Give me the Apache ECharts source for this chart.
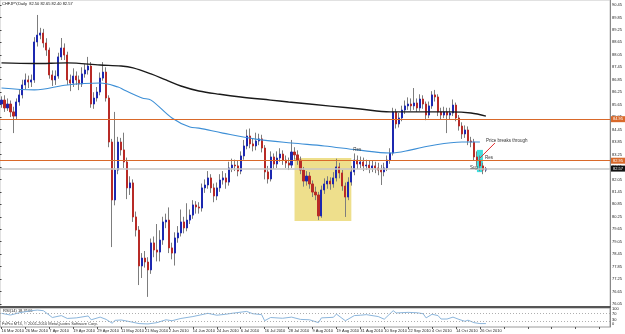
<!DOCTYPE html>
<html><head><meta charset="utf-8">
<script src="https://cdn.jsdelivr.net/npm/echarts@6/dist/echarts.min.js"></script>
<style>html,body{margin:0;padding:0;background:#fff}#c{width:625px;height:334px}</style>
</head><body><div id="c"></div>
<script>
const tickLabels = ['16 Mar 2010','26 Mar 2010','7 Apr 2010','19 Apr 2010','29 Apr 2010','11 May 2010','21 May 2010','2 Jun 2010','14 Jun 2010','24 Jun 2010','6 Jul 2010','16 Jul 2010','28 Jul 2010','9 Aug 2010','19 Aug 2010','31 Aug 2010','10 Sep 2010','22 Sep 2010','4 Oct 2010','14 Oct 2010','26 Oct 2010'];

const opens = [85.68,85.87,85.49,85.68,85.30,85.10,85.78,86.12,86.60,86.84,
 86.74,86.84,88.67,89.00,89.10,88.62,88.28,87.08,86.84,87.03,
 87.95,88.38,88.04,86.84,86.69,87.03,86.84,86.65,87.13,87.32,
 87.51,85.68,85.97,86.26,86.93,87.22,85.97,83.85,81.06,82.50,
 83.85,83.47,82.89,81.64,81.88,80.24,79.61,77.88,78.26,78.07,
 77.69,78.99,78.65,78.55,79.13,80.00,80.09,78.75,78.50,79.23,
 79.47,80.00,79.71,80.09,80.33,80.82,80.72,80.67,81.64,81.78,
 82.12,81.64,81.25,81.64,82.02,82.12,81.92,82.60,82.74,82.70,
 82.45,83.18,83.66,84.14,83.76,83.66,83.90,84.00,83.56,82.41,
 82.07,83.13,82.79,83.08,83.27,82.98,82.84,82.74,83.37,83.23,
 82.98,82.50,81.97,82.21,81.83,81.44,81.30,80.29,81.54,81.83,
 81.97,81.83,82.12,82.65,82.36,81.73,81.20,81.92,82.41,82.98,
 82.79,82.89,82.70,82.74,82.60,82.70,82.60,82.50,82.41,82.60,
 82.98,83.32,85.30,84.72,85.01,85.39,85.59,85.68,85.59,85.73,
 85.49,85.92,85.68,85.15,85.59,86.12,86.02,85.30,85.15,85.30,
 85.15,85.25,85.63,85.01,84.62,84.24,84.43,83.90,83.85,83.13,
 82.98,82.70,82.50];

const closes = [85.87,85.49,85.68,85.30,85.10,85.78,86.12,86.60,86.84,86.74,
 86.84,88.67,89.00,89.10,88.62,88.28,87.08,86.84,87.03,87.95,
 88.38,88.04,86.84,86.69,87.03,86.84,86.65,87.13,87.32,87.51,
 85.68,85.97,86.26,86.93,87.22,85.97,83.85,81.06,82.50,83.85,
 83.47,82.89,81.64,81.88,80.24,79.61,77.88,78.26,78.07,77.69,
 78.99,78.65,78.55,79.13,80.00,80.09,78.75,78.50,79.23,79.47,
 80.00,79.71,80.09,80.33,80.82,80.72,80.67,81.64,81.78,82.12,
 81.64,81.25,81.64,82.02,82.12,81.92,82.60,82.74,82.70,82.45,
 83.18,83.66,84.14,83.76,83.66,83.90,84.00,83.56,82.41,82.07,
 83.13,82.79,83.08,83.27,82.98,82.84,82.74,83.37,83.23,82.98,
 82.50,81.97,82.21,81.83,81.44,81.30,80.29,81.54,81.83,81.97,
 81.83,82.12,82.65,82.36,81.73,81.20,81.92,82.41,82.98,82.79,
 82.89,82.70,82.74,82.60,82.70,82.60,82.50,82.41,82.60,82.98,
 83.32,85.30,84.72,85.01,85.39,85.59,85.68,85.59,85.73,85.49,
 85.92,85.68,85.15,85.59,86.12,86.02,85.30,85.15,85.30,85.15,
 85.25,85.63,85.01,84.62,84.24,84.43,83.90,83.85,83.13,82.98,
 82.70,82.50,82.57];

const highs = [86.05,86.10,85.95,85.85,85.55,85.95,86.40,86.85,87.15,87.05,
 87.10,88.90,89.97,89.35,89.30,88.85,88.40,87.30,87.30,88.15,
 88.86,88.60,88.20,87.10,87.40,87.25,87.05,87.45,87.60,87.95,
 87.70,86.25,86.50,87.20,87.70,87.45,86.10,84.00,85.30,84.10,
 84.05,84.30,83.10,82.20,82.05,80.50,79.80,78.50,78.60,78.30,
 79.20,79.30,79.90,79.60,80.25,80.40,80.70,79.00,79.50,79.80,
 80.60,80.25,80.90,80.60,81.05,81.00,80.95,81.85,82.05,82.45,
 82.30,81.85,81.90,82.30,82.45,82.35,82.90,83.05,83.00,82.95,
 83.40,83.95,84.45,84.50,84.00,84.30,84.25,84.20,83.70,82.70,
 83.40,83.30,83.40,83.55,83.45,83.20,83.10,83.95,83.60,83.45,
 83.15,82.65,82.45,82.40,82.00,81.70,81.45,81.75,82.10,82.20,
 82.15,82.40,83.05,82.85,82.50,81.90,82.15,82.70,83.30,83.20,
 83.15,83.10,83.00,82.95,82.95,82.90,82.85,82.75,82.85,83.20,
 83.55,85.50,85.45,85.25,85.60,85.85,86.00,85.95,86.45,85.95,
 86.15,86.10,85.80,85.80,86.30,86.36,86.15,85.50,85.55,85.50,
 85.50,85.90,85.75,85.15,84.80,84.65,84.60,84.10,84.00,83.40,
 83.20,82.85,82.65];

const lows = [85.50,85.30,85.35,85.05,84.28,84.95,85.60,85.95,86.40,86.45,
 86.50,86.70,88.45,88.80,88.40,88.00,86.90,86.55,86.60,86.90,
 87.80,87.80,86.60,86.30,86.50,86.60,86.35,86.50,86.95,87.10,
 85.50,85.45,85.80,86.10,86.80,85.80,83.60,78.79,80.80,82.30,
 83.20,82.60,81.10,81.30,80.00,79.30,76.96,77.30,77.80,76.39,
 77.50,78.30,78.10,78.10,78.90,79.70,78.50,78.20,77.90,79.00,
 79.30,79.45,79.55,79.90,80.15,80.40,80.40,80.50,81.40,81.60,
 81.40,80.95,81.05,81.45,81.80,81.60,81.75,82.40,82.45,82.20,
 82.30,83.00,83.50,83.55,83.40,83.45,83.70,83.35,82.05,81.85,
 81.95,82.55,82.60,82.90,82.75,82.60,82.50,82.60,83.00,82.75,
 82.30,81.70,81.75,81.60,81.20,81.05,80.09,80.20,81.35,81.60,
 81.55,81.65,81.95,82.10,81.50,80.24,81.05,81.75,82.25,82.55,
 82.60,82.45,82.50,82.35,82.40,82.35,82.25,81.78,82.20,82.45,
 82.80,83.20,84.50,84.55,84.85,85.20,85.40,85.35,85.40,85.30,
 85.35,85.45,84.90,85.00,85.45,85.80,85.10,84.95,85.00,84.28,
 84.95,85.10,84.85,84.40,84.00,84.05,83.70,83.60,82.95,82.70,
 82.45,82.30,82.40];

// moving averages read at [bar index, price]
const maSlow = [[0,87.66],[11,87.63],[22,87.66],[33,87.56],[40,87.51],[44,87.42],[50,87.13],[55,86.84],[60,86.55],[66,86.31],[73,86.15],[80,86.02],[90,85.87],[96,85.78],[110,85.58],[120,85.44],[130,85.30],[140,85.30],[150,85.30],[157,85.25],[162,85.10]];
const maFast = [[0,86.45],[11,86.36],[22,86.60],[33,86.69],[39,86.50],[41,86.36],[47,85.97],[50,85.87],[57,85.01],[63,84.57],[66,84.52],[74,84.28],[85,83.99],[97,83.80],[108,83.66],[119,83.47],[130,83.32],[137,83.47],[143,83.66],[154,83.85],[160,83.85]];
const rsiValues = [[0,72],[3,63],[6,75],[10,86],[12,89],[14,86],[17,50],[20,60],[22,45],[25,48],[29,58],[30,38],[33,52],[35,40],[36,30],[37,20],[38,35],[40,37],[43,28],[46,18],[49,16],[52,23],[55,38],[57,33],[60,45],[64,55],[67,65],[69,72],[72,62],[75,67],[77,72],[82,82],[84,70],[87,65],[88,33],[90,50],[94,46],[97,52],[100,40],[103,38],[106,23],[107,48],[111,51],[112,68],[115,33],[118,60],[120,62],[122,65],[126,55],[128,41],[131,86],[132,74],[136,77],[139,75],[141,70],[142,48],[144,67],[146,60],[147,42],[149,42],[151,52],[153,40],[155,30],[156,36],[158,23],[160,18],[162,18]];

const resLine = 84.95;
const supLine = 82.95;
const bidPrice = 82.57;
const rsiLevels = [70, 30];
const yellowBox = [[98, 83.08], [117, 80.05]];
const cyanBox = [[159, 83.47], [161, 82.40]];
const notes = [
  {text: 'Res', at: [119, 83.47], pos: 'inside'},
  {text: 'Res', at: [163, 83.08], pos: 'inside'},
  {text: 'Sup', at: [158, 82.60], pos: 'inside'},
  {text: 'Price breaks through', at: [162, 83.90], pos: 'right'}
];
const arrowLine = [[160, 83.08], [165, 83.80]];

const SLOTS = 204;
const cats = Array.from({length: SLOTS}, (_, i) => String(i));
const ohlc = opens.map((o, i) => [o, closes[i], lows[i], highs[i]]);
const bodies = opens.map((o, i) => [o, closes[i], Math.min(o, closes[i]), Math.max(o, closes[i])]);

const FONT = '"Liberation Sans", Arial, sans-serif';
const BULL = '#1c28b0', BEAR = '#b82a26', WICK = '#7d7d7d', ORANGE = '#d9692a';

const chart = echarts.init(document.getElementById('c'), null, {renderer: 'canvas'});
chart.setOption({
  animation: false,
  backgroundColor: '#ffffff',
  textStyle: {fontFamily: FONT},
  title: {text: 'CHFJPY,Daily  82.50 82.65 82.40 82.57', left: 2, top: 2, padding: 0,
    textStyle: {fontSize: 4, fontWeight: 'normal', color: '#111', fontFamily: FONT}},
  grid: [
    {left: 0, right: 15, top: 0, height: 307, show: true, borderColor: '#c4c4c4', borderWidth: 1, outerBoundsMode: 'none'},
    {left: 0, right: 15, top: 308, height: 19, show: true, borderColor: '#9a9a9a', borderWidth: 1, outerBoundsMode: 'none'},
    {left: 0, right: 15, top: 5, height: 299, outerBoundsMode: 'none'},
    {left: 0, right: 15, top: 309.3, height: 15, outerBoundsMode: 'none'}
  ],
  xAxis: [
    {type: 'category', gridIndex: 0, data: cats, boundaryGap: true,
      axisLine: {show: true, lineStyle: {color: '#555', width: 2}}, axisTick: {show: false}, axisLabel: {show: false}, splitLine: {show: false}},
    {type: 'category', gridIndex: 1, data: cats, boundaryGap: true,
      axisLine: {show: false},
      axisTick: {show: true, interval: 7, length: 2, alignWithLabel: true, lineStyle: {color: '#555'}},
      axisLabel: {interval: 7, fontSize: 4, color: '#222', align: 'left', margin: 2, fontFamily: FONT,
        formatter: (v, i) => tickLabels[i / 8] || ''},
      splitLine: {show: false}},
    {type: 'value', gridIndex: 2, show: false, min: 0, max: 1},
    {type: 'value', gridIndex: 3, show: false, min: 0, max: 1}
  ],
  yAxis: [
    {type: 'value', gridIndex: 0, min: 75.903, max: 90.691, position: 'right',
      axisLine: {show: true, lineStyle: {color: '#888', width: 1}}, axisTick: {show: false}, axisLabel: {show: false}, splitLine: {show: false}},
    {type: 'value', gridIndex: 1, min: 0, max: 100, position: 'right',
      axisLine: {show: true, lineStyle: {color: '#888', width: 1}}, axisTick: {show: false}, axisLabel: {show: false}, splitLine: {show: false}},
    {type: 'value', gridIndex: 2, min: 76.2, max: 90.6, interval: 0.6, position: 'right',
      axisLine: {show: false}, axisTick: {show: true, length: 1.5, lineStyle: {color: '#444'}},
      axisLabel: {fontSize: 4, margin: 2, color: '#222', fontFamily: FONT, formatter: v => (v - 0.15).toFixed(2)},
      splitLine: {show: false}},
    {type: 'value', gridIndex: 3, min: 0, max: 100, interval: 10, position: 'right',
      axisLine: {show: false}, axisTick: {show: false},
      axisLabel: {fontSize: 4, margin: 2, color: '#222', fontFamily: FONT,
        formatter: v => ([0, 30, 70, 100].indexOf(Math.round(v)) >= 0 ? String(Math.round(v)) : '')},
      splitLine: {show: false}}
  ],
  series: [
    {type: 'candlestick', name: 'wicks', xAxisIndex: 0, yAxisIndex: 0, data: ohlc, barWidth: 1, z: 2,
      itemStyle: {color: WICK, color0: WICK, borderColor: WICK, borderColor0: WICK, borderWidth: 1},
      markArea: {silent: true, z: 1, data: [
        [{coord: yellowBox[0], itemStyle: {color: '#eedf8c'}}, {coord: yellowBox[1]}],
        [{coord: cyanBox[0], itemStyle: {color: '#3fdede'}}, {coord: cyanBox[1]}]
      ]},
      markLine: {silent: true, symbol: ['none', 'none'], animation: false, data: [
        {yAxis: resLine, lineStyle: {color: ORANGE, width: 1, type: 'solid'},
          label: {show: true, position: 'end', distance: 1, formatter: resLine.toFixed(2), fontSize: 4, color: '#fff', backgroundColor: ORANGE, padding: [1, 2], fontFamily: FONT}},
        {yAxis: supLine, lineStyle: {color: ORANGE, width: 1, type: 'solid'},
          label: {show: true, position: 'end', distance: 1, formatter: supLine.toFixed(2), fontSize: 4, color: '#fff', backgroundColor: ORANGE, padding: [1, 2], fontFamily: FONT}},
        {yAxis: bidPrice, lineStyle: {color: '#c6c6c6', width: 1.5, type: 'solid'},
          label: {show: true, position: 'end', distance: 1, formatter: bidPrice.toFixed(2), fontSize: 4, color: '#fff', backgroundColor: '#111', padding: [1, 2], fontFamily: FONT}},
        [{coord: arrowLine[0], lineStyle: {color: '#e02828', width: 1, type: 'solid'}, label: {show: false}}, {coord: arrowLine[1]}]
      ]},
      markPoint: {silent: true, symbol: 'circle', symbolSize: 0.1, itemStyle: {color: 'rgba(0,0,0,0)'},
        data: notes.map(n => ({coord: n.at, label: {show: true, formatter: n.text, position: n.pos, distance: 0, fontSize: 4.5, color: '#333', fontFamily: FONT}}))}
    },
    {type: 'candlestick', name: 'bodies', xAxisIndex: 0, yAxisIndex: 0, data: bodies, barWidth: 1.6, z: 3,
      itemStyle: {color: BULL, color0: BEAR, borderColor: BULL, borderColor0: BEAR, borderWidth: 1}},
    {type: 'line', name: 'MA slow', xAxisIndex: 0, yAxisIndex: 0, data: maSlow, smooth: 0.35, showSymbol: false, z: 4,
      lineStyle: {color: '#1a1a1a', width: 1.4}},
    {type: 'line', name: 'MA fast', xAxisIndex: 0, yAxisIndex: 0, data: maFast, smooth: 0.35, showSymbol: false, z: 4,
      lineStyle: {color: '#3d8fd6', width: 1.1}},
    {type: 'line', name: 'RSI', xAxisIndex: 1, yAxisIndex: 1, data: rsiValues, showSymbol: false, z: 3,
      lineStyle: {color: '#8cb6dc', width: 1},
      markLine: {silent: true, symbol: ['none', 'none'], label: {show: false},
        lineStyle: {color: '#9a9a9a', width: 0.8, type: [1, 2]},
        data: rsiLevels.map(v => ({yAxis: v}))}},
    {type: 'line', xAxisIndex: 2, yAxisIndex: 2, data: []},
    {type: 'line', xAxisIndex: 3, yAxisIndex: 3, data: []}
  ],
  graphic: [
    {type: 'text', left: 3, top: 309, style: {text: 'RSI(14) 18.3106', fontSize: 4, fill: '#222', fontFamily: FONT}},
    {type: 'text', left: 2, top: 321.5, style: {text: 'FxPro MT4, © 2001-2010 MetaQuotes Software Corp.', fontSize: 4, fill: '#333', fontFamily: FONT}}
  ]
});
</script>
</body></html>
